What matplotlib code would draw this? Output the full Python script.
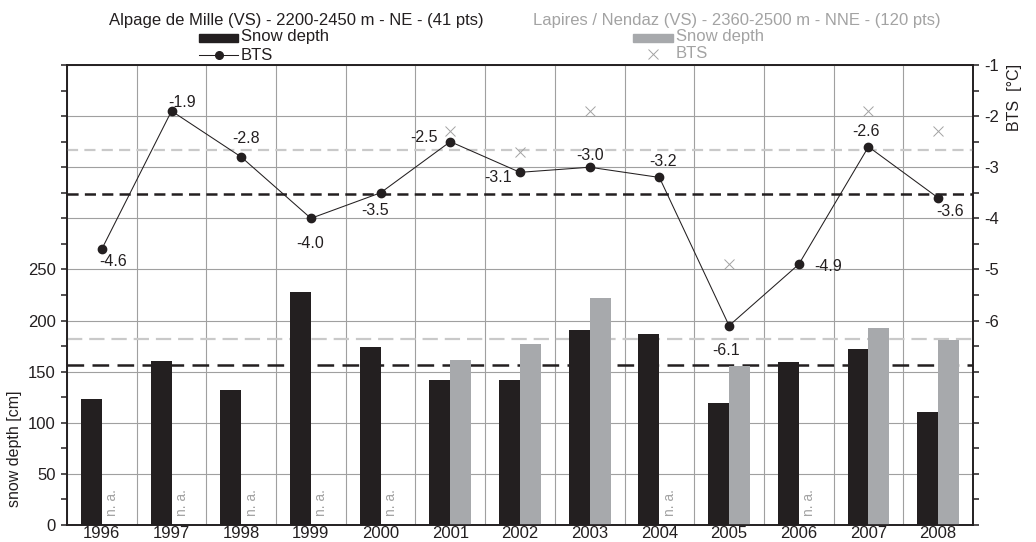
import numpy as np
import matplotlib
matplotlib.use("Agg")
import matplotlib.pyplot as plt
from matplotlib.ticker import FuncFormatter, MultipleLocator
from matplotlib.patches import Rectangle
from matplotlib.lines import Line2D

plt.rcParams['font.family'] = ['Liberation Sans', 'DejaVu Sans']
plt.rcParams['lines.scale_dashes'] = False

# ---- data -------------------------------------------------------------
years = ['1996', '1997', '1998', '1999', '2000', '2001', '2002',
         '2003', '2004', '2005', '2006', '2007', '2008']

# Alpage de Mille
mille_snow = [123, 160, 132, 228, 174, 142, 142, 191, 187, 119, 159, 172, 111]
mille_bts = [-4.6, -1.9, -2.8, -4.0, -3.5, -2.5, -3.1, -3.0, -3.2, -6.1, -4.9, -2.6, -3.6]

# Lapires / Nendaz (NaN = not available)
nan = np.nan
lapires_snow = [nan, nan, nan, nan, nan, 161, 177, 222, nan, 156, nan, 193, 181]
lapires_bts = [nan, nan, nan, nan, nan, -2.3, -2.7, -1.9, nan, -4.9, nan, -1.9, -2.3]

title_mille = "Alpage de Mille (VS) - 2200-2450 m - NE - (41 pts)"
title_lapires = "Lapires / Nendaz (VS) - 2360-2500 m - NNE - (120 pts)"

# label offsets (pixels, right / down) for the BTS value annotations
label_offsets = [(11, 13), (11, -8), (5, -18), (-1, 25), (-6, 18), (-26, -4), (-22, 5),
                 (0, -12), (4, -16), (-3, 25), (29, 2), (-2, -15), (12, 14)]

# ---- styling -----------------------------------------------------------
DARK = '#231f20'
GREY_BAR = '#a7a9ac'
GREY_TXT = '#a3a3a3'
GREY_DASH = '#c9c9c9'
GRID = '#a0a0a0'
FS = 12

W, H = 1036, 542
fig = plt.figure(figsize=(W / 100, H / 100), dpi=100)
L, R, T, B = 67, 973, 65, 525
ax1 = fig.add_axes([L / W, 1 - B / H, (R - L) / W, (B - T) / H])
ax2 = ax1.twinx()

x = np.arange(len(years))
bw = 0.3

# snow depth bars (left axis)
ax1.bar(x - bw / 2, mille_snow, width=bw, color=DARK, zorder=3)
ax1.bar(x + bw / 2, lapires_snow, width=bw, color=GREY_BAR, zorder=3)

# mean snow depth lines
ax1.axhline(np.nanmean(lapires_snow), color=GREY_DASH, lw=1.6, ls=(0, (11, 5)), zorder=2)
ax1.axhline(np.nanmean(mille_snow), color=DARK, lw=1.8, ls=(0, (12, 6)), zorder=2)

# "n. a." markers where no Lapires value exists
for xi, v in zip(x, lapires_snow):
    if np.isnan(v):
        ax1.text(xi + bw / 2, 9, 'n. a.', rotation=90, ha='center', va='bottom',
                 color=GREY_TXT, fontsize=10, zorder=4)

ax1.set_xlim(-0.5, len(years) - 0.5)
ax1.set_ylim(0, 450)
ax1.set_xticks(x)
ax1.set_xticklabels(years)
ax1.set_xticks(np.arange(-0.5, len(years), 1), minor=True)
ax1.tick_params(axis='x', which='both', length=0, pad=1, labelsize=FS, colors=DARK)

ax1.yaxis.set_major_locator(MultipleLocator(50))
ax1.yaxis.set_minor_locator(MultipleLocator(25))
ax1.yaxis.set_major_formatter(FuncFormatter(lambda v, p: f'{v:.0f}' if v <= 250 else ''))
ax1.tick_params(axis='y', which='both', length=4, width=1.1, direction='out',
                pad=4, labelsize=FS, colors=DARK)

ax1.grid(which='minor', axis='x', color=GRID, lw=0.8, zorder=0)
ax1.grid(which='major', axis='y', color=GRID, lw=0.8, zorder=0)
ax1.set_axisbelow(True)

# BTS (right axis)
ax2.set_ylim(-10, -1)
ax2.axhline(np.nanmean(lapires_bts), color=GREY_DASH, lw=1.6, ls=(0, (8, 4.5)), zorder=2)
ax2.axhline(np.mean(mille_bts), color=DARK, lw=1.8, ls=(0, (8, 4.5)), zorder=2)
ax2.plot(x, mille_bts, color=DARK, lw=0.75, marker='o', ms=6, mfc=DARK, mec=DARK, zorder=5)
ax2.plot(x, lapires_bts, ls='none', marker='x', ms=7, mew=0.7, color=GREY_TXT, zorder=5)

for xi, v, (dx, dy) in zip(x, mille_bts, label_offsets):
    ax2.annotate(f'{v:.1f}', (xi, v), xytext=(dx * 0.72, -dy * 0.72),
                 textcoords='offset points', ha='center', va='center',
                 fontsize=11.5, color=DARK, zorder=6)

ax2.yaxis.set_major_locator(MultipleLocator(1))
ax2.yaxis.set_minor_locator(MultipleLocator(0.5))
ax2.yaxis.set_major_formatter(FuncFormatter(lambda v, p: f'{v:.0f}' if v >= -6 else ''))
ax2.tick_params(axis='y', which='both', length=4, width=1.1, direction='out',
                pad=4, labelsize=FS, colors=DARK)

for ax in (ax1, ax2):
    for s in ax.spines.values():
        s.set_linewidth(1.2)
        s.set_color(DARK)
ax2.patch.set_visible(False)

# axis titles
fig.text(15 / W, 1 - 449 / H, 'snow depth [cm]', rotation=90, ha='center', va='center',
         fontsize=11.5, color=DARK)
fig.text(1015 / W, 1 - 97 / H, 'BTS  [°C]', rotation=90, ha='center', va='center',
         fontsize=11.5, color=DARK)


def fx(px):
    return px / W


def fy(py):
    return 1 - py / H


# station headers with key
fig.text(fx(296), fy(20), title_mille, ha='center', va='center', fontsize=FS, color=DARK)
fig.add_artist(Rectangle((fx(199), fy(42)), fx(39), 8 / H, color=DARK, transform=fig.transFigure))
fig.text(fx(241), fy(37), 'Snow depth', ha='left', va='center', fontsize=FS, color=DARK)
fig.add_artist(Line2D([fx(199), fx(238)], [fy(55), fy(55)], color=DARK, lw=0.75,
                      transform=fig.transFigure))
fig.add_artist(Line2D([fx(218.5)], [fy(55)], marker='o', ms=5.5, color=DARK,
                      transform=fig.transFigure))
fig.text(fx(241), fy(55), 'BTS', ha='left', va='center', fontsize=FS, color=DARK)

fig.text(fx(737), fy(20), title_lapires, ha='center', va='center', fontsize=FS, color=GREY_TXT)
fig.add_artist(Rectangle((fx(633), fy(42)), fx(40), 8 / H, color=GREY_BAR, transform=fig.transFigure))
fig.text(fx(676), fy(37), 'Snow depth', ha='left', va='center', fontsize=FS, color=GREY_TXT)
fig.add_artist(Line2D([fx(652.5)], [fy(54)], marker='x', ms=7, mew=0.7, ls='none',
                      color=GREY_TXT, transform=fig.transFigure))
fig.text(fx(676), fy(54), 'BTS', ha='left', va='center', fontsize=FS, color=GREY_TXT)

fig.savefig('out.png', dpi=100)
